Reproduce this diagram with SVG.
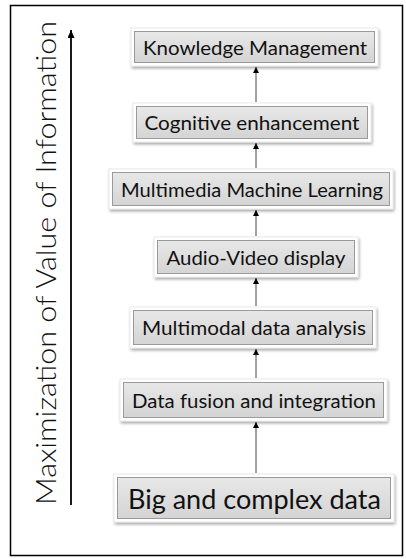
<svg xmlns="http://www.w3.org/2000/svg" width="406" height="559" viewBox="0 0 406 559">
<defs>
<linearGradient id="g" x1="0" y1="0" x2="0" y2="1">
<stop offset="0" stop-color="#e8e8e8"/>
<stop offset="1" stop-color="#d4d4d4"/>
</linearGradient>
<filter id="sh" x="-10%" y="-30%" width="120%" height="160%">
<feGaussianBlur in="SourceAlpha" stdDeviation="1.5"/>
<feOffset dx="1" dy="2" result="b"/>
<feComponentTransfer><feFuncA type="linear" slope="0.35"/></feComponentTransfer>
<feMerge><feMergeNode/><feMergeNode in="SourceGraphic"/></feMerge>
</filter>
<marker id="ah" markerWidth="6" markerHeight="6" refX="6" refY="3" orient="auto" markerUnits="userSpaceOnUse">
<path d="M0,0 L6,3 L0,6 Z" fill="#000"/>
</marker>
<marker id="ah2" markerWidth="8" markerHeight="7" refX="8" refY="3.5" orient="auto" markerUnits="userSpaceOnUse">
<path d="M0,0 L8,3.5 L0,7 Z" fill="#000"/>
</marker>
</defs>
<style>
.outer{fill:#fff;stroke:#e4e4e4;stroke-width:0.8;filter:url(#sh)}
.inner{fill:url(#g);stroke:#9a9a9a;stroke-width:1}
.t{font-family:Lato,"Open Sans",sans-serif;fill:#111;text-anchor:middle;dominant-baseline:central}
.c{stroke:#444;stroke-width:1;fill:none;marker-end:url(#ah)}
</style>
<rect x="10.5" y="5.5" width="392" height="550" fill="#fff" stroke="#000" stroke-width="1.5"/>
<g id="axis">
<text class="t" transform="translate(45,263) rotate(-90)" font-size="28" font-weight="300" textLength="484" lengthAdjust="spacingAndGlyphs">Maximization of Value of Information</text>
<line x1="71" y1="505" x2="71" y2="30" stroke="#000" stroke-width="1.8" marker-end="url(#ah2)"/>
</g>
<g id="n1"><rect class="outer" x="131" y="28" width="247" height="38"/><rect class="inner" x="134.5" y="31.5" width="240" height="31"/><text class="t" x="255" y="47.5" font-size="19.5" textLength="224" lengthAdjust="spacingAndGlyphs">Knowledge Management</text></g>
<g id="n2"><rect class="outer" x="133" y="103" width="238" height="39"/><rect class="inner" x="136.5" y="106.5" width="231" height="32"/><text class="t" x="252" y="122.5" font-size="19.5" textLength="215" lengthAdjust="spacingAndGlyphs">Cognitive enhancement</text></g>
<g id="n3"><rect class="outer" x="109" y="169" width="284" height="40"/><rect class="inner" x="112.5" y="172.5" width="277" height="33"/><text class="t" x="252" y="189" font-size="19.5" textLength="262" lengthAdjust="spacingAndGlyphs">Multimedia Machine Learning</text></g>
<g id="n4"><rect class="outer" x="154" y="237" width="204" height="40"/><rect class="inner" x="157.5" y="240.5" width="197" height="33"/><text class="t" x="256" y="257" font-size="19.5" textLength="179" lengthAdjust="spacingAndGlyphs">Audio-Video display</text></g>
<g id="n5"><rect class="outer" x="130" y="307" width="246" height="41"/><rect class="inner" x="133.5" y="310.5" width="239" height="34"/><text class="t" x="254" y="327.5" font-size="19.5" textLength="224" lengthAdjust="spacingAndGlyphs">Multimodal data analysis</text></g>
<g id="n6"><rect class="outer" x="120" y="379" width="267" height="42"/><rect class="inner" x="123.5" y="382.5" width="260" height="35"/><text class="t" x="254" y="400" font-size="19.5" textLength="244" lengthAdjust="spacingAndGlyphs">Data fusion and integration</text></g>
<g id="n7"><rect class="outer" x="114" y="474" width="280" height="48"/><rect class="inner" x="117.5" y="477.5" width="273" height="41"/><text class="t" x="254.5" y="498" font-size="27" textLength="253" lengthAdjust="spacingAndGlyphs">Big and complex data</text></g>
<g id="connectors">
<line class="c" x1="256" y1="473" x2="256" y2="422"/>
<line class="c" x1="256" y1="378" x2="256" y2="349"/>
<line class="c" x1="256" y1="306" x2="256" y2="278"/>
<line class="c" x1="256" y1="236" x2="256" y2="210"/>
<line class="c" x1="256" y1="168" x2="256" y2="143"/>
<line class="c" x1="256" y1="102" x2="256" y2="67"/>
</g>
</svg>
